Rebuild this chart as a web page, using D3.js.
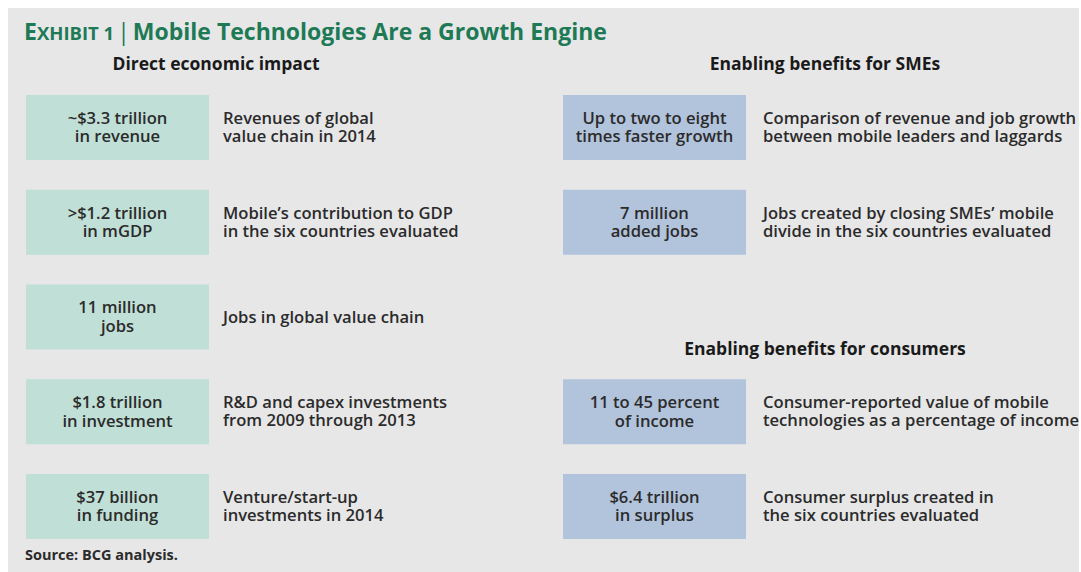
<!DOCTYPE html>
<html><head><meta charset="utf-8">
<script src="https://cdn.jsdelivr.net/npm/d3@7"></script>
<style>
html,body{margin:0;padding:0;background:#fff;}
svg{display:block;}
text{font-family:"Open Sans","Noto Sans",sans-serif;}
</style></head>
<body>
<svg id="chart" width="1081" height="572"></svg>
<script>
// ---- data ----
const sectionTitles = ["Direct economic impact", "Enabling benefits for SMEs", "Enabling benefits for consumers"];
const directValues = [
  ["~$3.3 trillion", "in revenue"],
  [">$1.2 trillion", "in mGDP"],
  ["11 million", "jobs"],
  ["$1.8 trillion", "in investment"],
  ["$37 billion", "in funding"]
];
const directDescriptions = [
  ["Revenues of global", "value chain in 2014"],
  ["Mobile\u2019s contribution to GDP", "in the six countries evaluated"],
  ["Jobs in global value chain"],
  ["R&D and capex investments", "from 2009 through 2013"],
  ["Venture/start-up", "investments in 2014"]
];
const smeValues = [
  ["Up to two to eight", "times faster growth"],
  ["7 million", "added jobs"]
];
const smeDescriptions = [
  ["Comparison of revenue and job growth", "between mobile leaders and laggards"],
  ["Jobs created by closing SMEs\u2019 mobile", "divide in the six countries evaluated"]
];
const consumerValues = [
  ["11 to 45 percent", "of income"],
  ["$6.4 trillion", "in surplus"]
];
const consumerDescriptions = [
  ["Consumer-reported value of mobile", "technologies as a percentage of income"],
  ["Consumer surplus created in", "the six countries evaluated"]
];
const titleText = "Mobile Technologies Are a Growth Engine";
const sourceText = "Source: BCG analysis.";

// ---- layout ----
const W = 1081, H = 572;
const svg = d3.select("#chart");
const bg = "#e7e7e8", green = "#c0dfd6", blue = "#b2c3dc", titleColor = "#1d7a55", textColor = "#2b2b2b";

svg.append("rect").attr("x", 0).attr("y", 0).attr("width", W).attr("height", H).attr("fill", "#fff");
svg.append("rect").attr("x", 8).attr("y", 8).attr("width", W - 10).attr("height", H - 8).attr("fill", bg);

// title
const t = svg.append("text").attr("x", 24).attr("y", 40).attr("fill", titleColor)
  .attr("font-weight", 700).attr("font-size", 23);
t.append("tspan").text("E");
t.append("tspan").attr("font-size", 18.5).text("XHIBIT 1");
t.append("tspan").attr("font-weight", 400).attr("dx", 3).text("|");
t.append("tspan").attr("dx", 3).text(titleText);

// row scale: index -> box top
const y = d3.scaleLinear().domain([0, 4]).range([95, 474]);
const boxW = 183, boxH = 65;
const fs = 16.6;

function drawGroup(values, descs, rows, boxX, descX, fill) {
  values.forEach((v, i) => {
    const top = y(rows[i]);
    svg.append("rect").attr("x", boxX).attr("y", top).attr("width", boxW).attr("height", boxH).attr("fill", fill);
    const cy = top + boxH / 2;
    const vt = svg.append("text").attr("text-anchor", "middle").attr("fill", textColor)
      .attr("font-size", fs).attr("font-weight", 600);
    v.forEach((line, j) => {
      vt.append("tspan").attr("x", boxX + boxW / 2)
        .attr("y", cy + (j - (v.length - 1) / 2) * 18.5 + 5.5).text(line);
    });
    const d = descs[i];
    const dt = svg.append("text").attr("fill", textColor).attr("font-size", fs).attr("font-weight", 600);
    d.forEach((line, j) => {
      dt.append("tspan").attr("x", descX)
        .attr("y", cy + (j - (d.length - 1) / 2) * 18 + 5.5).text(line);
    });
  });
}

drawGroup(directValues, directDescriptions, [0, 1, 2, 3, 4], 26, 223, green);
drawGroup(smeValues, smeDescriptions, [0, 1], 563, 763, blue);
drawGroup(consumerValues, consumerDescriptions, [3, 4], 563, 763, blue);

// section headers
const headers = [
  { text: sectionTitles[0], x: 216, y: 70 },
  { text: sectionTitles[1], x: 825, y: 70 },
  { text: sectionTitles[2], x: 825, y: 355 }
];
svg.selectAll("text.hdr").data(headers).enter().append("text").attr("class", "hdr")
  .attr("x", d => d.x).attr("y", d => d.y).attr("text-anchor", "middle")
  .attr("font-size", 17.5).attr("font-weight", 700).attr("fill", "#1a1a1a").text(d => d.text);

// source
svg.append("text").attr("x", 25).attr("y", 560).attr("font-size", 14.5).attr("font-weight", 700)
  .attr("fill", "#2b2b2b").text(sourceText);
</script>
</body></html>
